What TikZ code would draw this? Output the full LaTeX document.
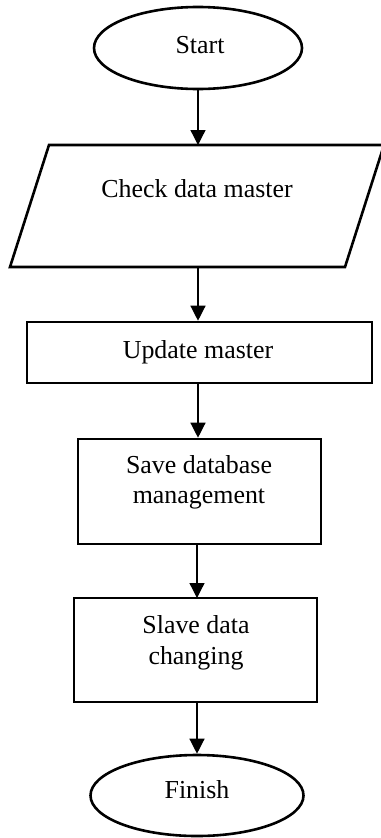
\documentclass[tikz,border=0pt]{standalone}
\usepackage{fontspec}
\setmainfont{Liberation Serif}
\usetikzlibrary{shapes.geometric,arrows.meta}
\begin{document}
\begin{tikzpicture}[x=1bp,y=-1bp,
  shp/.style={draw=black,line width=2.6bp,inner sep=0pt},
  term/.style={shp,ellipse},
  box/.style={shp,rectangle},
  lbl/.style={font=\fontsize{26}{30}\selectfont,anchor=base,inner sep=0pt,align=center},
  arr/.style={line width=1.3bp,-{Triangle[width=15bp,length=15bp]}}]
\useasboundingbox (0,0) rectangle (380,838);
% start
\node[term,minimum width=208bp,minimum height=82bp] (start) at (198,48) {};
\node[lbl] (startT) at (200,53) {Start};
% parallelogram
\coordinate (chkT) at (198,145);
\coordinate (chkB) at (198,267);
\draw[line width=2.6bp,line join=miter] (49,145) -- (384,145) -- (345,267) -- (10,267) -- cycle;
\node[lbl] (chkL) at (197,197) {Check data master};
% update
\node[box,minimum width=345bp,minimum height=61bp] (upd) at (199.5,352.5) {};
\node[lbl] (updL) at (198,358) {Update master};
% save
\node[box,minimum width=243bp,minimum height=105bp] (save) at (199.5,491.5) {};
\node[lbl] (saveL1) at (199,473) {Save database};
\node[lbl] (saveL2) at (199,503) {management};
% slave
\node[box,minimum width=243bp,minimum height=104bp] (slave) at (195.5,650) {};
\node[lbl] (slaveL1) at (196,633) {Slave data};
\node[lbl] (slaveL2) at (196,664) {changing};
% finish
\node[term,minimum width=213bp,minimum height=81bp] (fin) at (197,795.5) {};
\node[lbl] (finL) at (197,798) {Finish};
% arrows
\draw[arr] (start.south) -- (chkT);
\draw[arr] (chkB) -- (chkB |- upd.north);
\draw[arr] (chkB |- upd.south) -- (chkB |- save.north);
\draw[arr] (197,544) -- (197,598);
\draw[arr] (197,702) -- (fin.north);
\end{tikzpicture}
\end{document}
